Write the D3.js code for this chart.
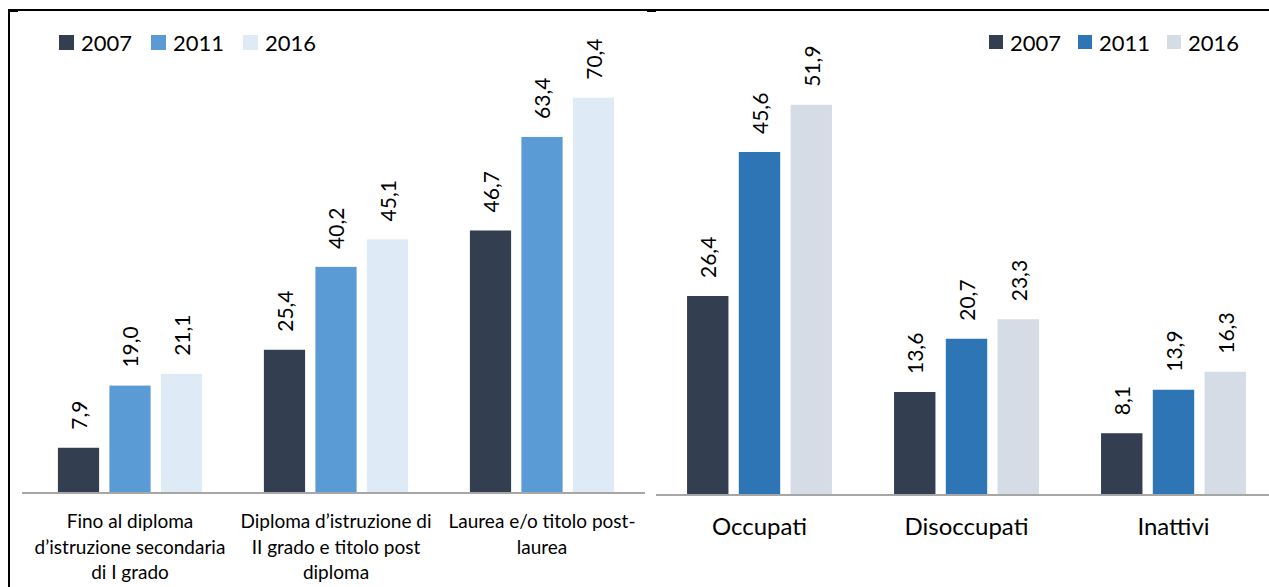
<!DOCTYPE html>
<html>
<head>
<meta charset="utf-8">
<script src="https://cdn.jsdelivr.net/npm/d3@7"></script>
<style>
  body { margin: 0; background: #fff; }
  svg { display: block; font-family: Lato, "Open Sans", sans-serif; }
</style>
</head>
<body>
<svg id="chart" width="1269" height="587"></svg>
<script>
// dati
var anni = ["2007", "2011", "2016"];

var titoli = [
    ["Fino al diploma", "d\u2019istruzione secondaria", "di I grado"],
    ["Diploma d\u2019istruzione di", "II grado e titolo post", "diploma"],
    ["Laurea e/o titolo post-", "laurea"]
];
var titoli2007 = [7.9, 25.4, 46.7];
var titoli2011 = [19.0, 40.2, 63.4];
var titoli2016 = [21.1, 45.1, 70.4];

var condizioni = ["Occupati", "Disoccupati", "Inattivi"];
var cond2007 = [26.4, 13.6, 8.1];
var cond2011 = [45.6, 20.7, 13.9];
var cond2016 = [51.9, 23.3, 16.3];

var coloriSx = ["#333f50", "#5b9bd5", "#deebf7"];
var coloriDx = ["#333f50", "#2e75b6", "#d6dce5"];

var svg = d3.select("#chart");
var fmt = function(v) { return d3.format(".1f")(v).replace(".", ","); };

function pannello(opt) {
    var g = svg.append("g");
    var serie = [opt.s1, opt.s2, opt.s3];

    var x0 = d3.scaleBand().domain(d3.range(opt.cat.length)).range(opt.xr).paddingInner(0).paddingOuter(0);
    var x1 = d3.scaleBand().domain(anni).range([0, x0.bandwidth()]).paddingInner(0.2).paddingOuter(0.6);
    var y = d3.scaleLinear().domain([0, opt.max]).range([opt.base, 44]);

    // barre
    anni.forEach(function(a, j) {
        g.selectAll(".b" + a).data(serie[j]).enter().append("rect")
            .attr("x", function(d, i) { return x0(i) + x1(a); })
            .attr("y", function(d) { return y(d); })
            .attr("width", x1.bandwidth())
            .attr("height", function(d) { return opt.base - y(d); })
            .attr("fill", opt.colori[j]);

        g.selectAll(".l" + a).data(serie[j]).enter().append("text")
            .attr("transform", function(d, i) {
                return "translate(" + (x0(i) + x1(a) + x1.bandwidth() / 2 + 1) + "," + (y(d) - 18) + ") rotate(-90)";
            })
            .attr("dy", "0.35em")
            .style("font-size", "21px")
            .style("fill", "#000")
            .text(fmt);
    });

    // asse
    g.append("line")
        .attr("x1", opt.ax[0]).attr("x2", opt.ax[1])
        .attr("y1", opt.base + 1).attr("y2", opt.base + 1)
        .attr("stroke", "#a6a6a6").attr("stroke-width", 2);

    // etichette categorie
    opt.cat.forEach(function(c, i) {
        var righe = Array.isArray(c) ? c : [c];
        var t = g.append("text")
            .attr("text-anchor", "middle")
            .style("font-size", opt.fs + "px")
            .style("fill", "#000");
        righe.forEach(function(r, k) {
            t.append("tspan")
                .attr("x", x0(i) + x0.bandwidth() / 2)
                .attr("y", opt.ly + k * 25.5)
                .text(r);
        });
    });

    // legenda
    var leg = g.selectAll(".leg").data(anni).enter().append("g")
        .attr("transform", function(d, i) { return "translate(" + opt.legX[i] + ",35)"; });
    leg.append("rect").attr("width", opt.legSq).attr("height", opt.legSq)
        .attr("fill", function(d, i) { return opt.colori[i]; });
    leg.append("text").attr("x", opt.legSq + 7).attr("y", opt.legSq / 2 + 1)
        .attr("dy", "0.35em").style("font-size", "22px").text(function(d) { return d; });
}

pannello({
    cat: titoli, s1: titoli2007, s2: titoli2011, s3: titoli2016,
    colori: coloriSx, max: 80, base: 492, xr: [27, 645], ax: [22, 645],
    fs: 19, ly: 528, legX: [59, 151, 243], legSq: 15
});

pannello({
    cat: condizioni, s1: cond2007, s2: cond2011, s3: cond2016,
    colori: coloriDx, max: 60, base: 494, xr: [656, 1277], ax: [656, 1269],
    fs: 24, ly: 535, legX: [989, 1078, 1167], legSq: 14
});

// cornice
svg.append("path").attr("d", "M9,587 V10 H1269").attr("fill", "none").attr("stroke", "#000").attr("stroke-width", 2);
svg.append("rect").attr("x", 9).attr("y", 9).attr("width", 9).attr("height", 3).attr("fill", "#000");
svg.append("rect").attr("x", 647).attr("y", 9).attr("width", 9).attr("height", 3).attr("fill", "#000");
</script>
</body>
</html>
